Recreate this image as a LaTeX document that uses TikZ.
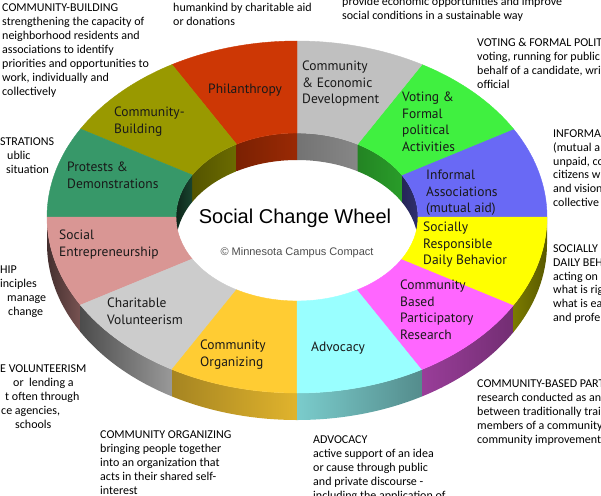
\documentclass[tikz,border=0pt]{standalone}
\usepackage{fontspec}
\setmainfont{Carlito}
\newfontfamily\labfont{PT Sans}
\newfontfamily\arialfont{Liberation Sans}
\definecolor{cPhil}{RGB}{205,55,5}
\definecolor{cCED}{RGB}{192,192,192}
\definecolor{cVote}{RGB}{64,240,64}
\definecolor{cInf}{RGB}{105,105,245}
\definecolor{cSoc}{RGB}{255,255,0}
\definecolor{cCBPR}{RGB}{255,102,255}
\definecolor{cAdv}{RGB}{153,255,255}
\definecolor{cOrg}{RGB}{255,204,51}
\definecolor{cChar}{RGB}{204,204,204}
\definecolor{cSE}{RGB}{217,150,148}
\definecolor{cProt}{RGB}{55,152,105}
\definecolor{cCB}{RGB}{153,153,0}
\newcommand\topsec[3]{%
  \fill[#3, draw=#3, line width=0.4pt] (#1:250 and 176) arc[start angle=#1, end angle=#2, x radius=250, y radius=176]
    -- (#2:121 and 84) arc[start angle=#2, end angle=#1, x radius=121, y radius=84] -- cycle;}
\newcommand\sidesec[4]{%
  \shade[left color=#3, right color=#4] (#1:250 and 176) arc[start angle=#1, end angle=#2, x radius=250, y radius=176]
    -- ++(0,-27) arc[start angle=#2, end angle=#1, x radius=250, y radius=176] -- cycle;}
\newcommand\wallsec[4]{%
  \shade[left color=#3, right color=#4] (#1:121 and 84) arc[start angle=#1, end angle=#2, x radius=121, y radius=84]
    -- ++(0,-27) arc[start angle=#2, end angle=#1, x radius=121, y radius=84] -- cycle;}
\begin{document}
\begin{tikzpicture}[x=1pt,y=-1pt,
  desc/.style={anchor=north west, inner sep=0pt, align=left, font=\fontsize{12}{13.9}\selectfont},
  seglab/.style={anchor=north west, inner sep=0pt, align=left, font=\labfont\fontsize{13.5}{16.5}\selectfont, text=black!90}]
\useasboundingbox (0,0) rectangle (601,495);
\clip (0,0) rectangle (601,495);
\begin{scope}[shift={(297,217)}, y=1pt]
  % outer side (front)
  \sidesec{180}{210}{black!55!cSE!70!black}{cSE!55!black}
  \sidesec{210}{240}{black!70}{black!40}
  \sidesec{240}{270}{cOrg!65!black}{cOrg!88!black}
  \sidesec{270}{300}{cAdv!80!black}{cAdv!55!black}
  \sidesec{300}{330}{cCBPR!60!black}{cCBPR!45!black}
  \sidesec{330}{360}{cSoc!48!black}{cSoc!35!black}
  % inner wall (far side)
  \begin{scope}
    \clip (0,0) ellipse [x radius=121, y radius=84];
    \wallsec{0}{30}{cInf!35!black}{cInf!45!black}
    \wallsec{30}{60}{cVote!55!black}{cVote!65!black}
    \wallsec{60}{90}{cCED!60!black}{cCED!70!black}
    \wallsec{90}{120}{cPhil!60!black}{cPhil!75!black}
    \wallsec{120}{150}{cCB!55!black}{cCB!70!black}
    \wallsec{150}{180}{cProt!25!black}{cProt!45!black}
  \end{scope}
  % top surface
  \topsec{0}{30}{cInf}
  \topsec{30}{60}{cVote}
  \topsec{60}{90}{cCED}
  \topsec{90}{120}{cPhil}
  \topsec{120}{150}{cCB}
  \topsec{150}{180}{cProt}
  \topsec{180}{210}{cSE}
  \topsec{210}{240}{cChar}
  \topsec{240}{270}{cOrg}
  \topsec{270}{300}{cAdv}
  \topsec{300}{330}{cCBPR}
  \topsec{330}{360}{cSoc}
\end{scope}
% segment labels
\node[seglab] (lPhil) at (208,82) {\strut Philanthropy};
\node[seglab] (lCED) at (302,59) {\strut Community\\\& Economic\\Development};
\node[seglab] (lVote) at (402,90) {\strut Voting \&\\Formal\\political\\Activities};
\node[seglab] (lInf) at (426,168) {\strut Informal\\Associations\\(mutual aid)};
\node[seglab] (lSoc) at (423,220) {\strut Socially\\Responsible\\Daily Behavior};
\node[seglab] (lCBPR) at (400,278) {\strut Community\\Based\\Participatory\\Research};
\node[seglab] (lAdv) at (311,340) {\strut Advocacy};
\node[seglab] (lOrg) at (200,338) {\strut Community\\Organizing};
\node[seglab] (lChar) at (107,296) {\strut Charitable\\Volunteerism};
\node[seglab] (lSE) at (59,228) {\strut Social\\Entrepreneurship};
\node[seglab] (lProt) at (67,160) {\strut Protests \&\\Demonstrations};
\node[seglab] (lCB) at (114,105) {\strut Community-\\Building};
% centre
\node[font=\arialfont\fontsize{20}{24}\selectfont, anchor=base] (title) at (295,223) {Social Change Wheel};
\node[font=\arialfont\fontsize{11}{13}\selectfont, text=black!70, anchor=base] (copy) at (297,255) {© Minnesota Campus Compact};
% descriptions
\node[desc] (dCB) at (2,1.8) {\strut COMMUNITY-BUILDING\\strengthening the capacity of\\neighborhood residents and\\associations to identify\\priorities and opportunities to\\work, individually and\\collectively};
\node[desc] (dPhil) at (173,1.3) {\strut humankind by charitable aid\\or donations};
\node[desc] (dCED) at (342,-4.7) {\strut provide economic opportunities and improve\\social conditions in a sustainable way};
\node[desc] (dVote) at (477,36.8) {\strut VOTING \& FORMAL POLIT\\voting, running for public\\behalf of a candidate, writ\\official};
\node[desc] (dInf) at (553,127.3) {\strut INFORMA\\(mutual a\\unpaid, co\\citizens w\\and vision\\collective};
\node[desc] (dSoc) at (553,242.3) {\strut SOCIALLY\\DAILY BEH\\acting on\\what is rig\\what is ea\\and profe};
\node[desc] (dCBPR) at (477,377.8) {\strut COMMUNITY-BASED PART\\research conducted as an\\between traditionally trai\\members of a community,\\community improvement};
\node[desc] (dAdv) at (313,433.8) {\strut ADVOCACY\\active support of an idea\\or cause through public\\and private discourse -\\including the application of};
\node[desc] (dOrg) at (100,428.8) {\strut COMMUNITY ORGANIZING\\bringing people together\\into an organization that\\acts in their shared self-\\interest};
\node[desc] (dChar) at (0,362.8) {\strut E VOLUNTEERISM\\\hspace*{13pt}or\ \ lending a\\\hspace*{5pt}t often through\\\hspace*{1pt}ce agencies,\\\hspace*{15pt}schools};
\node[desc] (dSE) at (0,263.8) {\strut HIP\\inciples\\\hspace*{7pt}manage\\\hspace*{8pt}change};
\node[desc] (dProt) at (0,135.8) {\strut STRATIONS\\\hspace*{7pt}ublic\\\hspace*{6pt}situation};
\end{tikzpicture}
\end{document}
